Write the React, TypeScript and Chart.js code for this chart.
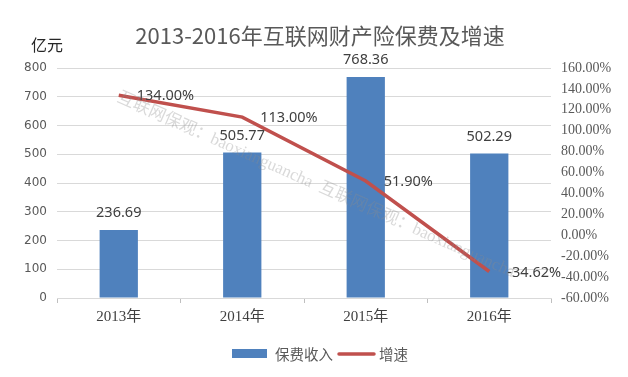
import React, { useEffect, useRef } from "react";
import { Chart, registerables } from "chart.js";

Chart.register(...registerables);

const categories = ["2013年", "2014年", "2015年", "2016年"];
const premiums = [236.69, 505.77, 768.36, 502.29];
const growth = [134.0, 113.0, 51.9, -34.62];
const premiumLabels = ["236.69", "505.77", "768.36", "502.29"];
const growthLabels = ["134.00%", "113.00%", "51.90%", "-34.62%"];
const titleText = "2013-2016年互联网财产险保费及增速";
const unitText = "亿元";
const seriesNames = ["保费收入", "增速"];
const watermark = "互联网保观：baoxianguancha  互联网保观：baoxianguancha";

const BLUE = "#4F81BD";
const RED = "#C0504D";

const decorPlugin = {
  id: "decor",
  afterDatasetsDraw(chart: any) {
    const ctx = chart.ctx;
    ctx.save();
    const barMeta = chart.getDatasetMeta(0);
    ctx.font = "14.5px 'Noto Sans', 'DejaVu Sans', sans-serif";
    ctx.fillStyle = "#404040";
    ctx.textAlign = "center";
    ctx.textBaseline = "middle";
    barMeta.data.forEach((el: any, i: number) => {
      ctx.fillText(premiumLabels[i], el.x, el.y - 17);
    });
    const lineMeta = chart.getDatasetMeta(1);
    ctx.textAlign = "left";
    lineMeta.data.forEach((el: any, i: number) => {
      ctx.fillText(growthLabels[i], el.x + 18, el.y + 1);
    });
    ctx.translate(118, 97);
    ctx.rotate((24 * Math.PI) / 180);
    ctx.font = "17px 'Liberation Serif', 'Noto Sans CJK SC', serif";
    ctx.fillStyle = "rgba(140,140,140,0.33)";
    ctx.textAlign = "left";
    ctx.fillText(watermark, 0, 0);
    ctx.restore();
  },
  afterDraw(chart: any) {
    const ctx = chart.ctx;
    ctx.save();
    ctx.textBaseline = "middle";
    ctx.textAlign = "center";
    ctx.fillStyle = "#595959";
    ctx.font = "22px 'Noto Sans CJK SC', sans-serif";
    ctx.fillText(titleText, 320, 36);
    ctx.textAlign = "left";
    ctx.fillStyle = "#262626";
    ctx.font = "16px 'Noto Sans CJK SC', sans-serif";
    ctx.fillText(unitText, 31, 45);
    ctx.fillStyle = BLUE;
    ctx.fillRect(232, 349, 35, 9);
    ctx.fillStyle = "#595959";
    ctx.font = "14.5px 'Noto Sans CJK SC', sans-serif";
    ctx.fillText(seriesNames[0], 275, 354);
    ctx.strokeStyle = RED;
    ctx.lineWidth = 3.5;
    ctx.lineCap = "round";
    ctx.beginPath();
    ctx.moveTo(339, 354);
    ctx.lineTo(374, 354);
    ctx.stroke();
    ctx.fillText(seriesNames[1], 379, 354);
    ctx.restore();
  },
};

export default function App() {
  const ref = useRef<HTMLCanvasElement>(null);
  useEffect(() => {
    if (!ref.current) return;
    const chart = new Chart(ref.current, {
      data: {
        labels: categories,
        datasets: [
          {
            type: "bar",
            label: seriesNames[0],
            data: premiums,
            backgroundColor: BLUE,
            yAxisID: "y",
            barPercentage: 0.62,
            categoryPercentage: 0.5,
            order: 2,
          },
          {
            type: "line",
            label: seriesNames[1],
            data: growth,
            borderColor: RED,
            borderWidth: 3.5,
            pointRadius: 0,
            tension: 0,
            yAxisID: "y1",
            order: 1,
          },
        ],
      } as any,
      options: {
        responsive: false,
        animation: false,
        layout: { padding: { top: 68, bottom: 49, left: 0, right: 0 } },
        plugins: {
          legend: { display: false },
          title: { display: false },
          tooltip: { enabled: false },
        },
        scales: {
          x: {
            offset: true,
            grid: {
              display: true,
              drawOnChartArea: false,
              drawTicks: true,
              tickLength: 5,
              color: "#bfbfbf",
              offset: true,
            },
            border: { display: true, color: "#d9d9d9" },
            ticks: {
              color: "#404040",
              font: { size: 15, family: "'Liberation Serif', 'Noto Sans CJK SC', serif" },
              padding: 5,
            },
            afterFit(scale: any) {
              scale.height = 30;
            },
          },
          y: {
            position: "left",
            min: 0,
            max: 800,
            ticks: {
              stepSize: 100,
              color: "#595959",
              font: { size: 12, family: "'DejaVu Sans', sans-serif" },
              padding: 10,
            },
            grid: { color: "#d9d9d9", drawTicks: false },
            border: { display: false },
            afterFit(scale: any) {
              scale.width = 57;
            },
          },
          y1: {
            position: "right",
            min: -60,
            max: 160,
            ticks: {
              stepSize: 20,
              color: "#595959",
              font: { size: 14, family: "'Liberation Serif', serif" },
              padding: 10,
              callback: (v: any) => Number(v).toFixed(2) + "%",
            },
            grid: { display: false, drawTicks: false },
            border: { display: false },
            afterFit(scale: any) {
              scale.width = 77;
            },
          },
        },
      } as any,
      plugins: [decorPlugin],
    });
    return () => chart.destroy();
  }, []);
  return (
    <div style={{ position: "fixed", left: 0, top: 0, width: 628, height: 377, background: "#fff" }}>
      <canvas ref={ref} width={628} height={377} style={{ width: 628, height: 377, display: "block" }} />
    </div>
  );
}
